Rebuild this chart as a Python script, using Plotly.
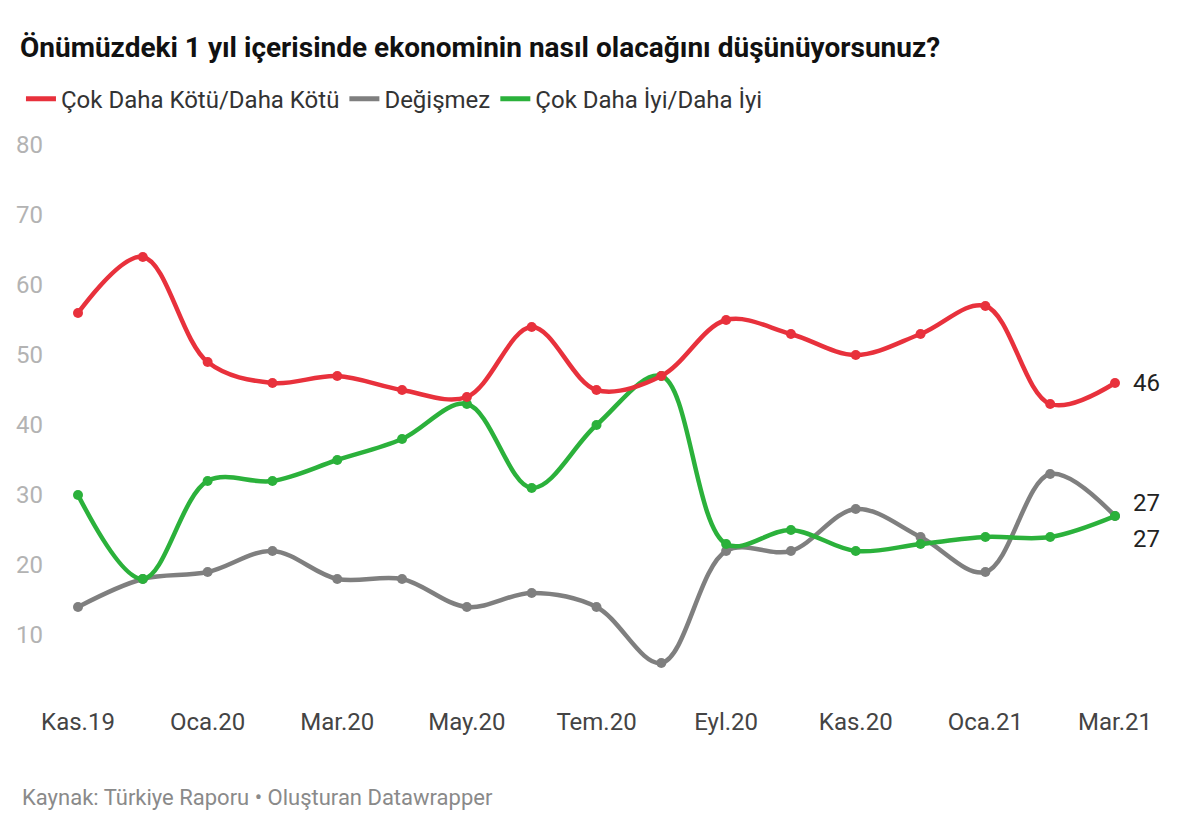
import plotly.graph_objects as go

months = ["Kas.19", "Ara.19", "Oca.20", "Şub.20", "Mar.20", "Nis.20", "May.20", "Haz.20",
          "Tem.20", "Ağu.20", "Eyl.20", "Eki.20", "Kas.20", "Ara.20", "Oca.21", "Şub.21", "Mar.21"]
worse = [56, 64, 49, 46, 47, 45, 44, 54, 45, 47, 55, 53, 50, 53, 57, 43, 46]
same = [14, 18, 19, 22, 18, 18, 14, 16, 14, 6, 22, 22, 28, 24, 19, 33, 27]
better = [30, 18, 32, 32, 35, 38, 43, 31, 40, 47, 23, 25, 22, 23, 24, 24, 27]
tick_labels = ["Kas.19", "Oca.20", "Mar.20", "May.20", "Tem.20", "Eyl.20", "Kas.20", "Oca.21", "Mar.21"]

series = [
    ("Çok Daha Kötü/Daha Kötü", worse, "#e8313c", 0),
    ("Değişmez", same, "#7f7f7f", 13),
    ("Çok Daha İyi/Daha İyi", better, "#2bb13b", -23),
]

x = list(range(len(months)))
fig = go.Figure()

# draw order: grey, green, red on top
for name, vals, col, _ in [series[1], series[2], series[0]]:
    fig.add_trace(go.Scatter(
        x=x, y=vals, mode="lines+markers", name=name, showlegend=False,
        line=dict(color=col, width=4.5, shape="spline", smoothing=1),
        marker=dict(color=col, size=10), cliponaxis=False,
        hovertext=months, hoverinfo="text+y",
    ))

for name, vals, col, _ in series:
    fig.add_trace(go.Scatter(
        x=[None], y=[None], mode="lines", name=name, showlegend=True,
        line=dict(color=col, width=5),
    ))

for name, vals, col, ys in series:
    fig.add_annotation(x=x[-1], y=vals[-1], text=str(vals[-1]), showarrow=False,
                       xanchor="left", xshift=16, yshift=ys,
                       font=dict(size=24, color="#222222", family="Roboto"))

fig.update_layout(
    width=1200, height=840,
    paper_bgcolor="white", plot_bgcolor="white",
    margin=dict(l=78, r=85, t=145, b=135),
    font=dict(family="Roboto", color="#333333"),
    title=dict(text="<b>Önümüzdeki 1 yıl içerisinde ekonominin nasıl olacağını düşünüyorsunuz?</b>",
               x=20 / 1200, xref="container", xanchor="left", y=1 - 47 / 840, yref="container",
               yanchor="middle",
               font=dict(size=28, color="#111111", family="Roboto"), pad=dict(l=0)),
    legend=dict(orientation="h", x=-0.055, xanchor="left", y=1.082, yanchor="middle",
                font=dict(size=24, color="#333333", family="Roboto"),
                itemwidth=30, tracegroupgap=0, bgcolor="rgba(0,0,0,0)"),
    showlegend=True,
    hovermode="closest",
)
fig.update_xaxes(range=[0, 16], tickmode="array",
                 tickvals=[months.index(t) for t in tick_labels], ticktext=tick_labels,
                 showgrid=False, zeroline=False, showline=False, ticks="",
                 tickfont=dict(size=24, color="#444444", family="Roboto"))
fig.update_yaxes(range=[0, 80], tickvals=[10, 20, 30, 40, 50, 60, 70, 80],
                 showgrid=False, zeroline=False, showline=False, ticks="",
                 ticklabelstandoff=34,
                 tickfont=dict(size=24, color="#b3b3b3", family="Roboto"))

fig.add_annotation(x=20 / 1200, xref="paper", xanchor="left", y=-0.165, yref="paper",
                   yanchor="middle", showarrow=False,
                   text="Kaynak: Türkiye Raporu • Oluşturan Datawrapper",
                   font=dict(size=22, color="#8a8a8a", family="Roboto"))
fig.layout.annotations[-1].update(xref="paper", x=(20 - 78) / (1200 - 78 - 85))

fig.write_html("out.html")
